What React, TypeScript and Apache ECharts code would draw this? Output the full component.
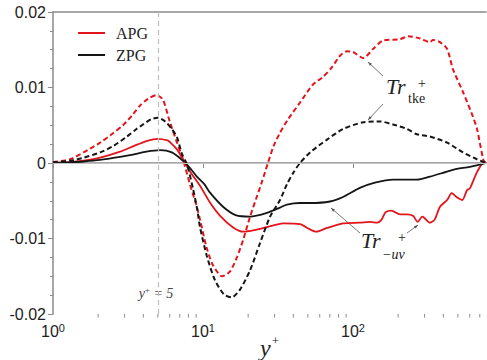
import React, { useEffect, useRef } from "react";
import * as echarts from "echarts";

// ---- axis ranges / ticks ----
const xMin = 1;
const xMax = 770;
const yMin = -0.02;
const yMax = 0.02;
const yInterval = 0.01;
const xMajorTicks = [1, 10, 100];
const xMinorTicks = [2, 3, 4, 5, 6, 7, 8, 9, 20, 30, 40, 50, 60, 70, 80, 90, 200, 300, 400, 500, 600, 700];
const guideX = 5;

// ---- series: [y+, value] ----
const apgTke: [number, number][] = [
  [1, 0.0001], [1.3, 0.0005], [1.6, 0.0014], [2.06, 0.0027], [2.5, 0.0039], [2.93, 0.005],
  [3.4, 0.0064], [3.8, 0.0076], [4.3, 0.0085], [4.9, 0.009], [5.4, 0.0084], [6.0, 0.0055],
  [6.71, 0.0027], [7.35, 0.0005], [8.2, -0.0029], [9.0, -0.0055], [9.55, -0.0075], [10.6, -0.0113],
  [11.7, -0.0136], [13.4, -0.015], [15.1, -0.0144], [16.9, -0.0124], [18.5, -0.0102], [20.6, -0.0071],
  [22.9, -0.0044], [24.7, -0.0025], [27.1, 0.0], [29.5, 0.0022], [32.6, 0.004], [36.9, 0.0058],
  [44.3, 0.008], [54.1, 0.0104], [63.1, 0.0114], [72.4, 0.0127], [81.9, 0.0142], [91.2, 0.0148],
  [100, 0.0147], [117, 0.0139], [136, 0.0151], [158, 0.0162], [206, 0.0164], [233, 0.0168],
  [280, 0.0165], [326, 0.016], [341, 0.0163], [380, 0.016], [424, 0.0151], [464, 0.0124],
  [541, 0.0094], [631, 0.0061], [671, 0.0045], [740, 0.0004], [770, 0.0],
];

const zpgTke: [number, number][] = [
  [1, 0.0001], [1.3, 0.0003], [1.6, 0.0007], [2.06, 0.0014], [2.5, 0.0022], [3.11, 0.0035],
  [3.6, 0.0045], [3.98, 0.0051], [4.5, 0.0058], [5.0, 0.006], [5.6, 0.0055], [6.2, 0.0045],
  [6.71, 0.0034], [7.24, 0.0012], [7.82, -0.0002], [8.6, -0.0035], [9.12, -0.006], [9.55, -0.0085],
  [10.6, -0.0123], [12.0, -0.0155], [13.8, -0.0174], [15.5, -0.0178], [17.6, -0.0168], [20.6, -0.0142],
  [24.0, -0.0106], [28.0, -0.0071], [32.6, -0.0049], [36.3, -0.0028], [40, -0.0013], [44.3, 0.0],
  [51.7, 0.0014], [67.1, 0.0031], [85.8, 0.0045], [117, 0.0054], [151, 0.0055], [185, 0.0051],
  [229, 0.0045], [267, 0.0038], [326, 0.0035], [424, 0.0027], [541, 0.0014], [671, 0.0005], [770, 0.0],
];

const apgUv: [number, number][] = [
  [1, 0.0], [1.3, 0.0001], [1.6, 0.0003], [2.06, 0.0007], [2.8, 0.0015], [3.41, 0.0022],
  [4.2, 0.0029], [5.0, 0.0032], [5.8, 0.003], [6.0, 0.0028], [6.7, 0.0018], [7.35, 0.0005],
  [8.3, -0.0013], [9.55, -0.003], [11.1, -0.0052], [13.0, -0.007], [15.8, -0.0085], [18.5, -0.0091],
  [22, -0.0089], [26.7, -0.0085], [34.2, -0.008], [44.3, -0.0081], [51.7, -0.0088], [57, -0.0091],
  [67.1, -0.0086], [85.8, -0.008], [111, -0.0079], [130, -0.0078], [145, -0.0079], [155, -0.0075],
  [165, -0.0065], [180, -0.0063], [206, -0.0068], [229, -0.0068], [251, -0.007], [270, -0.0078],
  [290, -0.0071], [326, -0.0079], [350, -0.0075], [380, -0.0058], [424, -0.0049], [455, -0.004],
  [490, -0.0045], [535, -0.0049], [575, -0.0036], [600, -0.0034], [671, -0.0012], [740, 0.0], [770, 0.0],
];

const zpgUv: [number, number][] = [
  [1, 0.0], [1.3, 0.0001], [1.6, 0.0002], [2.06, 0.0004], [2.8, 0.0008], [3.41, 0.0011],
  [4.2, 0.0015], [5.17, 0.0017], [6.2, 0.0014], [7.35, 0.0003], [8.3, -0.0008], [9.1, -0.0018],
  [10.2, -0.0028], [11.1, -0.0039], [13.6, -0.0058], [16.5, -0.0069], [20.6, -0.0071], [26.7, -0.0066],
  [32.6, -0.0059], [36.3, -0.0055], [44.3, -0.0053], [52, -0.0053], [70.2, -0.0051], [85.8, -0.0045],
  [111, -0.0033], [140, -0.0026], [185, -0.0022], [267, -0.0022], [326, -0.0018], [398, -0.0013],
  [464, -0.0009], [600, -0.0005], [700, -0.0002], [770, 0.0],
];

const RED = "#e3141c";
const BLACK = "#151515";
const AXIS = "#8a8a8a";
const SERIF = "'Liberation Serif', 'Times New Roman', serif";
const SANS = "'Liberation Sans', Arial, sans-serif";

export default function App() {
  const ref = useRef<HTMLDivElement>(null);

  useEffect(() => {
    if (!ref.current) return;
    const chart = echarts.init(ref.current, null, { renderer: "svg" });

    const leader = (x1: number, y1: number, x2: number, y2: number) => ({
      type: "line",
      shape: { x1, y1, x2, y2 },
      style: { stroke: "#555", lineWidth: 0.8 },
      silent: true,
    });
    const arrowHead = (x: number, y: number, dx: number, dy: number) => {
      const len = Math.sqrt(dx * dx + dy * dy);
      const ux = dx / len, uy = dy / len;
      const px = -uy, py = ux;
      const s = 4;
      return {
        type: "polygon",
        shape: {
          points: [
            [x, y],
            [x - ux * s + px * 1.5, y - uy * s + py * 1.5],
            [x - ux * s - px * 1.5, y - uy * s - py * 1.5],
          ],
        },
        style: { fill: "#555" },
        silent: true,
      };
    };

    const option: any = {
      animation: false,
      backgroundColor: "#ffffff",
      grid: { left: 53, right: 1, top: 12, bottom: 46, containLabel: false, outerBoundsMode: "none" },
      legend: {
        data: ["APG", "ZPG"],
        orient: "vertical",
        left: 73,
        top: 20,
        itemWidth: 27,
        itemHeight: 2,
        itemGap: 6,
        icon: "rect",
        textStyle: { fontFamily: SERIF, fontSize: 16, color: "#222", padding: [0, 0, 0, 6] },
      },
      xAxis: [
        {
          type: "log",
          logBase: 10,
          min: xMin,
          max: xMax,
          position: "bottom",
          axisLine: { show: true, lineStyle: { color: AXIS, width: 1.5 } },
          axisTick: { show: true, customValues: xMajorTicks, length: 5, lineStyle: { color: AXIS, width: 1 } },
          minorTick: { show: false },
          splitLine: { show: false },
          axisLabel: {
            customValues: xMajorTicks,
            margin: 8,
            color: "#222",
            fontFamily: SANS,
            fontSize: 16,
            formatter: (v: number) => `10{s|${Math.round(Math.log10(v))}}`,
            rich: {
              s: { fontSize: 11, fontFamily: SANS, color: "#222", verticalAlign: "top", padding: [0, 0, 8, 0] },
            },
          },
          name: "{i|y}{s|+}",
          nameLocation: "middle",
          nameGap: 20,
          nameMoveOverlap: false,
          nameTextStyle: {
            rich: {
              i: { fontFamily: SERIF, fontStyle: "italic", fontSize: 24, color: "#222" },
              s: { fontFamily: SERIF, fontSize: 13, color: "#222", verticalAlign: "top", padding: [0, 0, 14, 1] },
            },
          },
        },
        {
          type: "log",
          logBase: 10,
          min: xMin,
          max: xMax,
          position: "top",
          axisLine: { show: true, lineStyle: { color: AXIS, width: 1.5 } },
          axisTick: { show: false },
          axisLabel: { show: false },
          splitLine: { show: false },
        },
      ],
      yAxis: {
        type: "value",
        min: yMin,
        max: yMax,
        interval: yInterval,
        axisLine: { show: true, lineStyle: { color: AXIS, width: 1.5 } },
        axisTick: { show: true, length: 5, lineStyle: { color: AXIS, width: 1 } },
        minorTick: { show: true, splitNumber: 4, length: 3, lineStyle: { color: AXIS, width: 1 } },
        splitLine: { show: false },
        axisLabel: { margin: 7, color: "#222", fontFamily: SANS, fontSize: 16 },
      },
      series: [
        {
          name: "guides",
          type: "line",
          data: [],
          z: 1,
          silent: true,
          markLine: {
            silent: true,
            symbol: "none",
            label: { show: false },
            data: [
              { yAxis: 0, lineStyle: { color: "#c4c4c4", type: "solid", width: 1.2 } },
              { xAxis: guideX, lineStyle: { color: "#bdbdbd", type: [5, 4], width: 1.2 } },
            ],
          },
        },
        {
          name: "minorX",
          type: "custom",
          silent: true,
          clip: false,
          data: xMinorTicks.map((v) => [v, yMin]),
          renderItem: (params: any, api: any) => {
            const p = api.coord([api.value(0), api.value(1)]);
            return {
              type: "line",
              shape: { x1: p[0], y1: p[1], x2: p[0], y2: p[1] + 3.5 },
              style: { stroke: AXIS, lineWidth: 1 },
            };
          },
        },
        {
          name: "APG",
          type: "line",
          data: apgUv,
          showSymbol: false,
          smooth: 0.25,
          z: 3,
          color: RED,
          lineStyle: { color: RED, width: 1.8 },
        },
        {
          name: "ZPG",
          type: "line",
          data: zpgUv,
          showSymbol: false,
          smooth: 0.25,
          z: 3,
          color: BLACK,
          lineStyle: { color: BLACK, width: 1.8 },
        },
        {
          name: "APG",
          type: "line",
          data: apgTke,
          showSymbol: false,
          smooth: 0.25,
          z: 3,
          color: RED,
          lineStyle: { color: RED, width: 2, type: [5, 3] },
        },
        {
          name: "ZPG",
          type: "line",
          data: zpgTke,
          showSymbol: false,
          smooth: 0.25,
          z: 3,
          color: BLACK,
          lineStyle: { color: BLACK, width: 2, type: [5, 3] },
        },
      ],
      graphic: [
        // y+ = 5 label
        {
          type: "text",
          x: 156,
          y: 293,
          silent: true,
          style: {
            text: "{i|y}{s|+}{n| = 5}",
            align: "center",
            verticalAlign: "middle",
            rich: {
              i: { fontFamily: SERIF, fontStyle: "italic", fontSize: 14, fill: "#444" },
              s: { fontFamily: SERIF, fontSize: 9, fill: "#444", verticalAlign: "top", padding: [0, 0, 6, 0] },
              n: { fontFamily: SERIF, fontStyle: "italic", fontSize: 14, fill: "#444" },
            },
          },
        },
        // Tr_tke label
        {
          type: "text",
          x: 386,
          y: 97,
          silent: true,
          style: { text: "Tr", fontFamily: SERIF, fontStyle: "italic", fontSize: 22, fill: "#222", verticalAlign: "bottom" },
        },
        {
          type: "text",
          x: 408,
          y: 105,
          silent: true,
          style: { text: "tke", fontFamily: SERIF, fontSize: 14, fill: "#222", verticalAlign: "bottom" },
        },
        {
          type: "text",
          x: 422,
          y: 83,
          silent: true,
          style: { text: "+", fontFamily: SERIF, fontSize: 14, fill: "#222", align: "center", verticalAlign: "middle" },
        },
        leader(383, 76, 368, 62),
        arrowHead(368, 62, -15, -14),
        leader(383, 104, 368, 120),
        arrowHead(368, 120, -15, 16),
        // Tr_-uv label
        {
          type: "text",
          x: 361,
          y: 251,
          silent: true,
          style: { text: "Tr", fontFamily: SERIF, fontStyle: "italic", fontSize: 22, fill: "#222", verticalAlign: "bottom" },
        },
        {
          type: "text",
          x: 382,
          y: 261,
          silent: true,
          style: { text: "\u2212uv", fontFamily: SERIF, fontStyle: "italic", fontSize: 14, fill: "#222", verticalAlign: "bottom" },
        },
        {
          type: "text",
          x: 402,
          y: 237,
          silent: true,
          style: { text: "+", fontFamily: SERIF, fontSize: 14, fill: "#222", align: "center", verticalAlign: "middle" },
        },
        leader(360, 233, 331, 208),
        arrowHead(331, 208, -29, -25),
        leader(407, 233, 418, 225),
        arrowHead(418, 225, 11, -8),
      ],
    };

    chart.setOption(option);
    return () => chart.dispose();
  }, []);

  return (
    <div
      ref={ref}
      style={{ position: "fixed", left: 0, top: 0, width: 487, height: 360, background: "#fff" }}
    />
  );
}
